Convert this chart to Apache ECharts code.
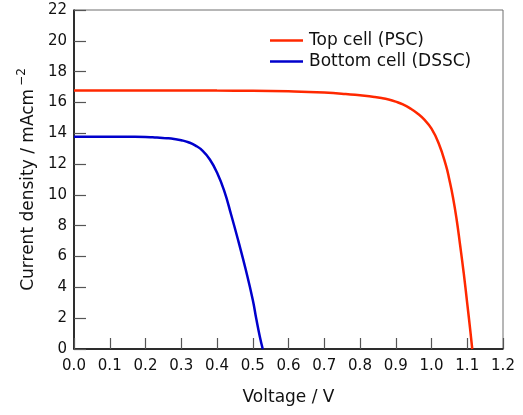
<!DOCTYPE html>
<html>
<head>
<meta charset="utf-8">
<script src="https://cdn.jsdelivr.net/npm/echarts@6/dist/echarts.min.js"></script>
<style>
  html, body { margin: 0; padding: 0; background: #fff; }
  #chart { width: 523px; height: 415px; }
</style>
</head>
<body>
<div id="chart"></div>
<script>
// J–V curves of the tandem sub-cells
const topVoltage = [0, 0.1, 0.2, 0.3, 0.4, 0.5, 0.6, 0.7, 0.76, 0.8, 0.84, 0.86, 0.88, 0.90, 0.92, 0.94, 0.96, 0.98, 1.0, 1.02, 1.04, 1.05, 1.06, 1.07, 1.08, 1.09, 1.10, 1.108, 1.114];
const topCurrent = [16.77, 16.78, 16.78, 16.78, 16.77, 16.76, 16.72, 16.64, 16.55, 16.46, 16.36, 16.29, 16.19, 16.05, 15.87, 15.62, 15.3, 14.88, 14.3, 13.35, 11.95, 10.98, 9.85, 8.45, 6.75, 4.95, 2.95, 1.3, 0];

const bottomVoltage = [0, 0.05, 0.1, 0.15, 0.2, 0.22, 0.24, 0.26, 0.28, 0.30, 0.32, 0.34, 0.36, 0.38, 0.40, 0.42, 0.44, 0.46, 0.48, 0.50, 0.51, 0.52, 0.528];
const bottomCurrent = [13.78, 13.78, 13.78, 13.77, 13.76, 13.74, 13.71, 13.68, 13.63, 13.55, 13.42, 13.2, 12.86, 12.3, 11.45, 10.28, 8.68, 6.98, 5.19, 3.2, 1.94, 0.78, 0];

const seriesNames = ['Top cell (PSC)', 'Bottom cell (DSSC)'];

const xTicks = { min: 0, max: 1.2, step: 0.1 };
const yTicks = { min: 0, max: 22, step: 2 };

const FONT = '"DejaVu Sans", "Liberation Sans", sans-serif';

function pairs(xs, ys) { return xs.map((x, i) => [x, ys[i]]); }

const chart = echarts.init(document.getElementById('chart'), null, { renderer: 'canvas' });

chart.setOption({
  animation: false,
  backgroundColor: '#fff',
  grid: {
    left: 74, right: 20, top: 10, bottom: 66,
    show: true, borderColor: '#6e6e6e', borderWidth: 1, backgroundColor: 'transparent'
  },
  legend: {
    orient: 'vertical',
    left: 265, top: 25,
    icon: 'rect',
    itemWidth: 33, itemHeight: 2.5, itemGap: 0,
    textStyle: { fontFamily: FONT, fontSize: 17, color: '#111', lineHeight: 21, padding: [0, 0, 0, 1] },
    data: seriesNames
  },
  xAxis: {
    type: 'value',
    min: xTicks.min, max: xTicks.max, interval: xTicks.step,
    name: 'Voltage / V',
    nameLocation: 'middle', nameGap: 40,
    nameTextStyle: { fontFamily: FONT, fontSize: 17, color: '#111' },
    axisLine: { show: true, lineStyle: { color: '#000', width: 1.5 } },
    axisTick: { show: true, inside: true, length: 11, lineStyle: { color: '#555', width: 1.2 } },
    axisLabel: { fontFamily: FONT, fontSize: 15, color: '#111', margin: 10, formatter: v => v.toFixed(1) },
    splitLine: { show: false }
  },
  yAxis: {
    type: 'value',
    min: yTicks.min, max: yTicks.max, interval: yTicks.step,
    name: '{t|Current density / mAcm}{s|−2}',
    nameLocation: 'middle', nameGap: 31,
    nameTextStyle: {
      fontFamily: FONT, color: '#111',
      rich: {
        t: { fontFamily: FONT, fontSize: 17, color: '#111' },
        s: { fontFamily: FONT, fontSize: 12, color: '#111', verticalAlign: 'bottom', padding: [0, 0, 13, 3] }
      }
    },
    axisLine: { show: true, lineStyle: { color: '#000', width: 1.5 } },
    axisTick: { show: true, inside: true, length: 12, lineStyle: { color: '#555', width: 1.2 } },
    axisLabel: { fontFamily: FONT, fontSize: 15, color: '#111', margin: 7 },
    splitLine: { show: false }
  },
  series: [
    {
      name: seriesNames[0],
      type: 'line',
      data: pairs(topVoltage, topCurrent),
      symbol: 'none',
      smooth: 0.5,
      lineStyle: { color: '#ff2800', width: 2.5 },
      itemStyle: { color: '#ff2800' }
    },
    {
      name: seriesNames[1],
      type: 'line',
      data: pairs(bottomVoltage, bottomCurrent),
      symbol: 'none',
      smooth: 0.5,
      lineStyle: { color: '#0000cc', width: 2.5 },
      itemStyle: { color: '#0000cc' }
    }
  ]
});
</script>
</body>
</html>
